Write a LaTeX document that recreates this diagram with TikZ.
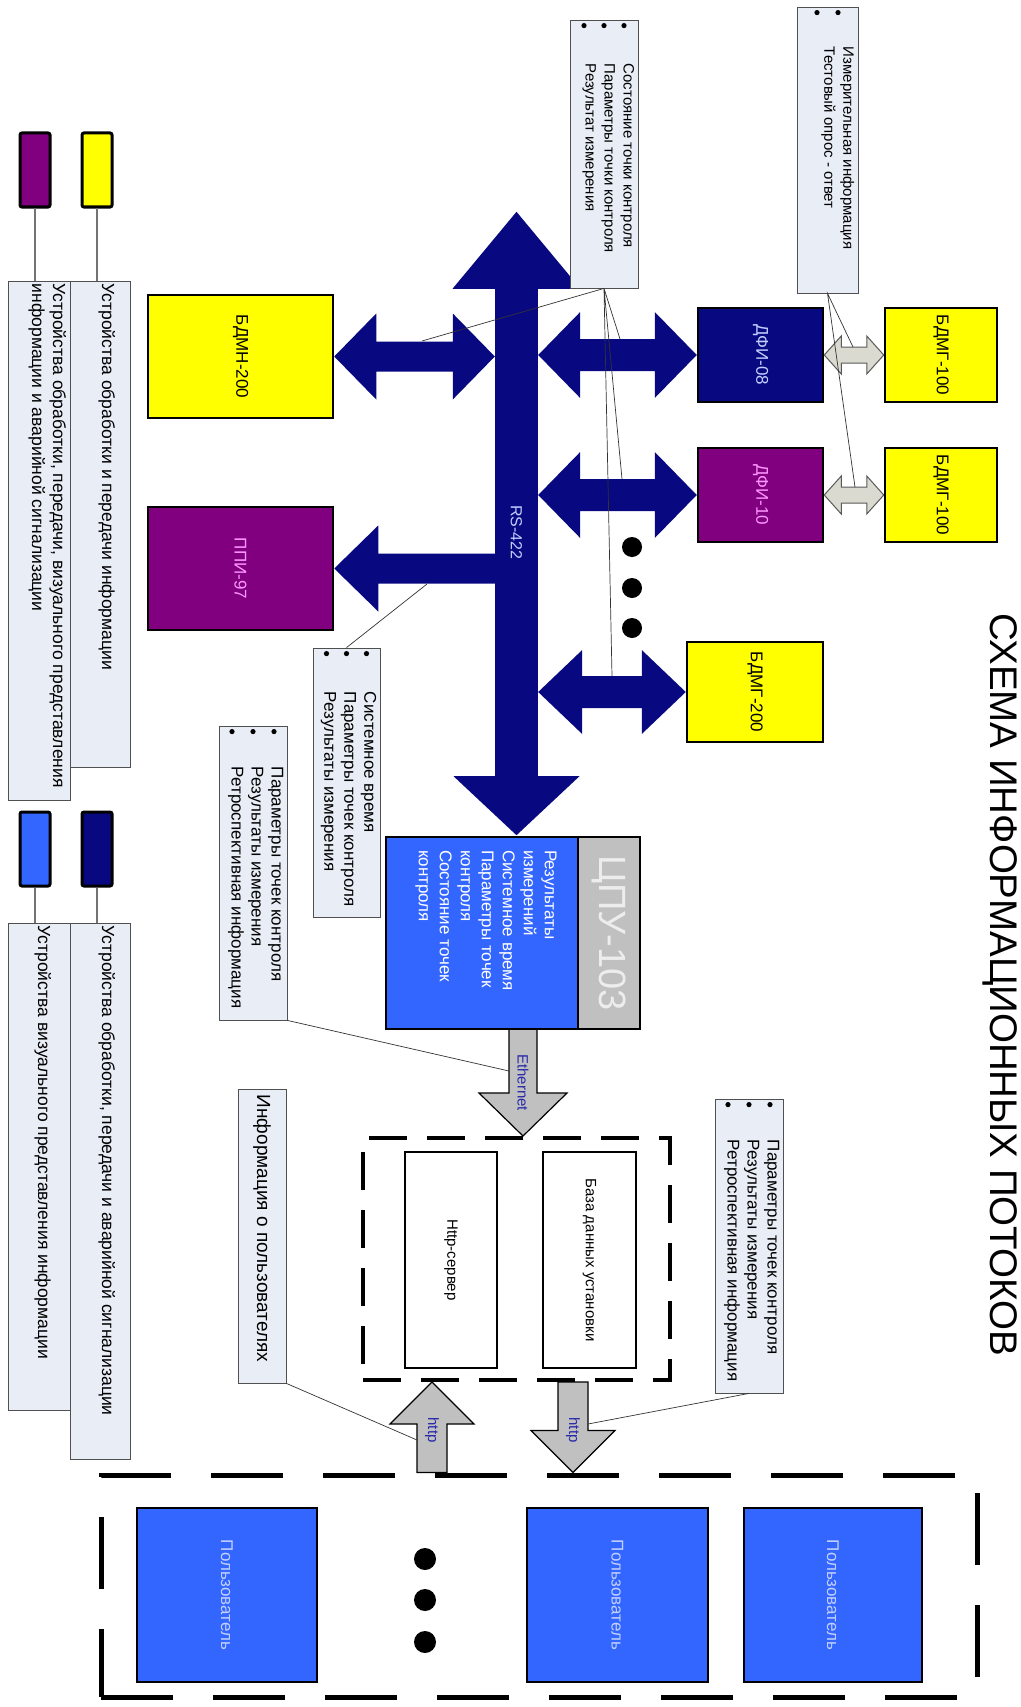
\documentclass[tikz,border=0pt]{standalone}
\usepackage{fontspec}
\setmainfont{Liberation Sans}
\usepackage{graphicx}
\usetikzlibrary{calc,backgrounds}

\definecolor{navy}{RGB}{8,8,128}
\definecolor{devpurple}{RGB}{128,0,128}
\definecolor{devyellow}{RGB}{255,255,0}
\definecolor{userblue}{RGB}{51,102,255}
\definecolor{cpugray}{RGB}{192,192,192}
\definecolor{notefill}{RGB}{232,237,246}
\definecolor{noteline}{RGB}{80,80,80}
\definecolor{pinktext}{RGB}{255,150,255}
\definecolor{paleblue}{RGB}{195,208,255}
\definecolor{linkblue}{RGB}{40,40,170}
\definecolor{smallgray}{RGB}{218,218,208}

\tikzset{
  dev/.style={draw=black, line width=2.5pt, inner sep=0pt, font=\fontsize{17}{20}\selectfont},
  yellowdev/.style={dev, fill=devyellow},
  purpledev/.style={dev, fill=devpurple, text=pinktext},
  navydev/.style={dev, fill=navy, text=paleblue},
  userdev/.style={dev, fill=userblue, text=paleblue},
  note/.style={draw=noteline, fill=notefill, line width=0.8pt, inner sep=0pt},
  notetext/.style={rotate=-90, anchor=north west, inner sep=0pt, align=left, font=\fontsize{15}{19}\selectfont},
  bignotetext/.style={notetext, font=\fontsize{17}{20}\selectfont},
  swatch/.style={draw=black, line width=3pt, rounded corners=2pt, inner sep=0pt, minimum width=30pt, minimum height=74pt},
  swatchtext/.style={notetext, font=\fontsize{17.5}{21}\selectfont},
  swatchline/.style={draw=black!55, line width=2pt},
  leader/.style={draw=black!80, line width=0.7pt},
  busarrow/.style={fill=navy},
  grayarrow/.style={fill=cpugray, draw=black, line width=1.2pt},
  smallarrow/.style={fill=smallgray, draw=black!65, line width=1pt},
  srvframe/.style={draw=black, line width=4pt, dash pattern=on 38pt off 20pt, inner sep=0pt},
  userframe/.style={draw=black, line width=5pt, dash pattern=on 72pt off 40pt, inner sep=0pt},
  linklabel/.style={rotate=-90, text=linkblue, font=\fontsize{15}{17}\selectfont}
}

\newcommand{\duplex}[6]{\path[#1] (#2) -- ++(#6,-#5) -- ++(0,#5-#4) -- ($(#3)+(-#6,-#4)$) -- ++(0,#4-#5) -- (#3) -- ++(-#6,#5) -- ++(0,#4-#5) -- ($(#2)+(#6,#4)$) -- ++(0,#5-#4) -- cycle;}
\newcommand{\leftway}[6]{\path[#1] (#2) -- ++(#6,-#5) -- ++(0,#5-#4) -- ($(#3)+(0,-#4)$) -- ++(0,2*#4) -- ($(#2)+(#6,#4)$) -- ++(0,#5-#4) -- cycle;}
\newcommand{\downway}[6]{\path[#1] ($(#2)+(-#4,0)$) -- ($(#3)+(-#4,-#6)$) -- ++(#4-#5,0) -- (#3) -- ++(#5,-#6) -- ++(#4-#5,0) -- ($(#2)+(#4,0)$) -- cycle;}
\newcommand{\upway}[6]{\path[#1] ($(#2)+(-#4,0)$) -- ($(#3)+(-#4,#6)$) -- ++(#4-#5,0) -- (#3) -- ++(#5,#6) -- ++(#4-#5,0) -- ($(#2)+(#4,0)$) -- cycle;}

\begin{document}
\begin{tikzpicture}[x=1pt, y=-1pt]
  \useasboundingbox (0,0) rectangle (1020,1707);

  \node[rotate=-90, font=\fontsize{38.5}{42}\selectfont] (title) at (1000,985) {СХЕМА ИНФОРМАЦИОННЫХ ПОТОКОВ};

  \node[yellowdev, minimum width=185pt, minimum height=123pt] (bdmn) at (240.5,356.5) {\rotatebox{-90}{БДМН-200}};
  \node[purpledev, minimum width=185pt, minimum height=123pt] (ppi) at (240.5,568.5) {\rotatebox{-90}{ППИ-97}};
  \node[navydev, minimum width=125pt, minimum height=94pt] (dfi08) at (760.5,355) {\rotatebox{-90}{ДФИ-08}};
  \node[purpledev, minimum width=125pt, minimum height=94pt] (dfi10) at (760.5,495) {\rotatebox{-90}{ДФИ-10}};
  \node[yellowdev, minimum width=112pt, minimum height=94pt] (bdmgA) at (941,355) {\rotatebox{-90}{БДМГ-100}};
  \node[yellowdev, minimum width=112pt, minimum height=94pt] (bdmgB) at (941,495) {\rotatebox{-90}{БДМГ-100}};
  \node[yellowdev, minimum width=136pt, minimum height=100pt] (bdmg200) at (755,692) {\rotatebox{-90}{БДМГ-200}};

  \node[fill=navy, inner sep=0pt, minimum width=43pt, minimum height=489pt, text=paleblue, font=\fontsize{16}{18}\selectfont] (bus) at (516.5,532.5) {\rotatebox{-90}{RS-422}};

  \foreach \y in {547,588,628} \fill (632,\y) circle (10pt);

  \node[fill=userblue, inner sep=0pt, minimum width=254pt, minimum height=192pt] (cpu) at (513,933) {};
  \node[fill=cpugray, inner sep=0pt, minimum width=62pt, minimum height=192pt, anchor=east, text=white!93!black, font=\fontsize{38}{40}\selectfont] (cpuname) at (cpu.east) {\rotatebox{-90}{ЦПУ-103}};
  \draw[line width=2.5pt] (cpu.north west) rectangle (cpu.south east) (cpuname.north west) -- (cpuname.south west);
  \node[notetext, text=white, font=\fontsize{17}{21}\selectfont] (cputext) at ($(cpu.north west)+(171,13)$) {Результаты\\измерений\\Системное время\\Параметры точек\\контроля\\Состояние точек\\контроля};

  \node[srvframe, minimum width=307pt, minimum height=242pt] (srv) at (516.5,1259) {};
  \node[dev, fill=white, minimum width=92pt, minimum height=216pt, font=\fontsize{15}{18}\selectfont] (http) at (451,1260) {\rotatebox{-90}{Http-сервер}};
  \node[dev, fill=white, minimum width=93pt, minimum height=216pt, font=\fontsize{15}{18}\selectfont] (db) at (589.5,1260) {\rotatebox{-90}{База данных установки}};

  \node[userframe, minimum width=876pt, minimum height=222pt] (users) at (539,1586) {};
  \node[userdev, minimum width=178pt, minimum height=174pt] (userA) at (833,1595) {\rotatebox{-90}{Пользователь}};
  \node[userdev, minimum width=181pt, minimum height=174pt] (userB) at (617.5,1595) {\rotatebox{-90}{Пользователь}};
  \node[userdev, minimum width=180pt, minimum height=174pt] (userC) at (227,1595) {\rotatebox{-90}{Пользователь}};
  \foreach \y in {1559,1600,1642} \fill (425,\y) circle (11pt);

  \coordinate (bdmnbus) at (bus.west |- bdmn.east);
  \coordinate (ppibus) at (bus.west |- ppi.east);
  \coordinate (dfiAbus) at (bus.east |- dfi08.west);
  \coordinate (dfiBbus) at (bus.east |- dfi10.west);
  \coordinate (bdmgbus) at (bus.east |- bdmg200.west);
  \coordinate (ethtop) at ($(cpu.south)+(10,0)$);
  \coordinate (ethtip) at (ethtop |- srv.north);
  \coordinate (uptip) at (432,0 |- srv.south);
  \coordinate (upfoot) at (uptip |- users.north);
  \coordinate (dntop) at (573,0 |- srv.south);
  \coordinate (dntip) at (dntop |- users.north);

  \begin{scope}[on background layer]
    \fill[white] (0,0) rectangle (1020,1707);
    \fill[navy] ($(bus.north)+(-64,1)$) -- ($(bus.north)+(0,-76)$) -- ($(bus.north)+(64,1)$) -- cycle;
    \fill[navy] ($(bus.south)+(-63,-1)$) -- ($(bus.south)+(0,58)$) -- ($(bus.south)+(63,-1)$) -- cycle;
    \duplex{busarrow}{bdmn.east}{bdmnbus}{15}{43}{42}
    \leftway{busarrow}{ppi.east}{ppibus}{15}{43}{44}
    \duplex{busarrow}{dfiAbus}{dfi08.west}{16}{43}{42}
    \duplex{busarrow}{dfiBbus}{dfi10.west}{16}{43}{42}
    \duplex{busarrow}{bdmgbus}{bdmg200.west}{16}{42}{44}
    \duplex{smallarrow}{dfi08.east}{bdmgA.west}{8}{19}{17}
    \duplex{smallarrow}{dfi10.east}{bdmgB.west}{8}{19}{17}
    \downway{grayarrow}{ethtop}{ethtip}{14}{44}{43}
    \upway{grayarrow}{upfoot}{uptip}{15}{42}{42}
    \downway{grayarrow}{dntop}{dntip}{15}{42}{42}
  \end{scope}

  \node[linklabel] (ethlabel) at ($(ethtop)!0.5!(ethtip)$) {Ethernet};
  \node[linklabel] (uplabel) at ($(uptip)+(0,48)$) {http};
  \node[linklabel] (dnlabel) at ($(dntop)+(0,48)$) {http};

  \node[note, minimum width=68pt, minimum height=268pt] (c1) at (604,154) {};
  \node[notetext] at ($(c1.north east)+(-4,44)$) {Состояние точки контроля\\Параметры точки контроля\\Результат измерения};
  \foreach \d in {-20,0,20} \fill ($(c1.north)+(\d,6)$) circle (2.6pt);

  \node[note, minimum width=61pt, minimum height=286pt] (c2) at (827.5,150) {};
  \node[notetext] at ($(c2.north east)+(-4,40)$) {Измерительная информация\\Тестовый опрос - ответ};
  \foreach \d in {-10.5,10.5} \fill ($(c2.north)+(\d,6)$) circle (2.6pt);

  \node[note, minimum width=67pt, minimum height=269pt] (c3) at (346.5,782.5) {};
  \node[bignotetext] at ($(c3.north east)+(-4,44)$) {Системное время\\Параметры точек контроля\\Результаты измерения};
  \foreach \d in {-20,0,20} \fill ($(c3.north)+(\d,6)$) circle (2.6pt);

  \node[note, minimum width=68pt, minimum height=294pt] (c4) at (253,873) {};
  \node[bignotetext] at ($(c4.north east)+(-4,41)$) {Параметры точек контроля\\Результаты измерения\\Ретроспективная информация};
  \foreach \d in {-21,0,21} \fill ($(c4.north)+(\d,6)$) circle (2.6pt);

  \node[note, minimum width=68pt, minimum height=294pt] (c5) at (749,1246) {};
  \node[bignotetext] at ($(c5.north east)+(-4,41)$) {Параметры точек контроля\\Результаты измерения\\Ретроспективная информация};
  \foreach \d in {-21,0,21} \fill ($(c5.north)+(\d,6)$) circle (2.6pt);

  \node[note, minimum width=48pt, minimum height=294pt] (c6) at (262,1236) {};
  \node[bignotetext, anchor=west, font=\fontsize{19}{21}\selectfont] at ($(c6.north)+(0,6)$) {Информация о пользователях};

  \coordinate (bdmnpt) at (422,341);
  \coordinate (dfiApt) at (620,339);
  \coordinate (dfiBpt) at (622,479);
  \coordinate (bdmgpt) at (612,676);
  \coordinate (smallApt) at (853,347);
  \coordinate (smallBpt) at (855,487);
  \coordinate (ppipt) at (427,584);
  \coordinate (ethpt) at (509,1071);
  \coordinate (dnpt) at (588,1424);
  \coordinate (uppt) at (417,1440);
  \draw[leader] (bdmnpt) -- (c1.south) -- (dfiApt) (c1.south) -- (dfiBpt) (c1.south) -- (bdmgpt);
  \draw[leader] (smallApt) -- (c2.south) -- (smallBpt);
  \draw[leader] (c3.north) -- (ppipt);
  \draw[leader] (c4.south east) -- (ethpt);
  \draw[leader] (c5.south) -- (dnpt);
  \draw[leader] (c6.south east) -- (uppt);

  \node[swatch, fill=devyellow] (swA) at (97,170) {};
  \node[swatch, fill=devpurple] (swB) at (35,170) {};
  \node[swatch, fill=navy] (swC) at (97,849) {};
  \node[swatch, fill=userblue] (swD) at (35,849) {};
  \node[note, minimum width=62pt, minimum height=519pt] (keyB) at (39,540.5) {};
  \node[note, minimum width=60pt, minimum height=486pt] (keyA) at (100,524) {};
  \node[note, minimum width=62pt, minimum height=487pt] (keyD) at (39,1166.5) {};
  \node[note, minimum width=60pt, minimum height=536pt] (keyC) at (100,1191) {};
  \node[swatchtext] at ($(keyA.north east)+(-15,3)$) {Устройства обработки и передачи информации};
  \node[swatchtext] at ($(keyB.north east)+(-4,3)$) {Устройства обработки, передачи, визуального представления\\информации и аварийной сигнализации};
  \node[swatchtext] at ($(keyC.north east)+(-15,3)$) {Устройства обработки, передачи и аварийной сигнализации};
  \node[swatchtext] at ($(keyD.north east)+(-19,3)$) {Устройства визуального представления информации};
  \draw[swatchline] (swA.south) -- (swA.south |- keyA.north);
  \draw[swatchline] (swB.south) -- (swB.south |- keyB.north);
  \draw[swatchline] (swC.south) -- (swC.south |- keyC.north);
  \draw[swatchline] (swD.south) -- (swD.south |- keyD.north);
\end{tikzpicture}
\end{document}
